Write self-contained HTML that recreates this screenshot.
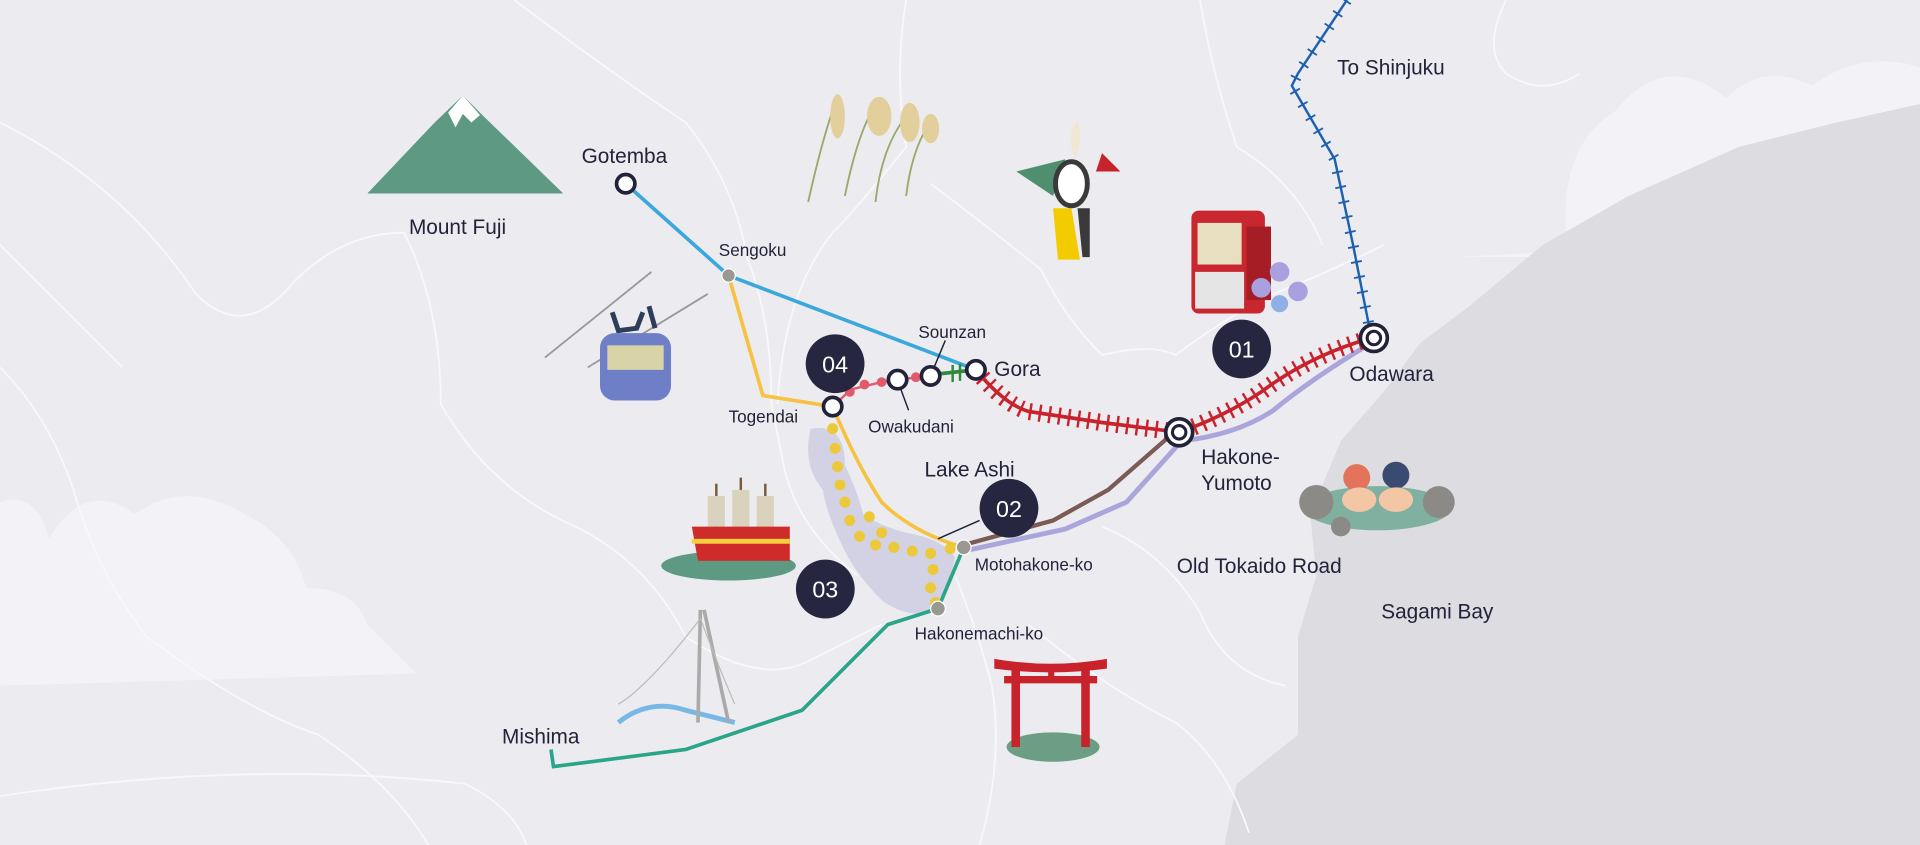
<!DOCTYPE html>
<html><head><meta charset="utf-8"><style>
html,body{margin:0;padding:0;background:#ececf0;}
svg{display:block}
text{font-family:"Liberation Sans",sans-serif;fill:#22223a;}
</style></head><body>
<svg width="1920" height="845" viewBox="0 0 1568 690" preserveAspectRatio="none" xmlns="http://www.w3.org/2000/svg">
<rect width="1568" height="690" fill="#ececf0"/>
<!-- clouds -->
<g fill="#f4f4f7" opacity="0.9">
<path d="M1190,210 L1280,205 Q1270,120 1320,90 Q1360,40 1410,80 Q1440,50 1480,70 Q1520,40 1568,55 L1568,210 Z"/>
<path d="M0,560 L0,410 Q30,400 40,440 Q70,390 110,420 Q150,390 200,420 Q240,440 250,480 Q290,480 300,510 L340,550 Z"/>
</g>
<!-- sea -->
<path d="M1000,690 L1010,640 L1060,600 L1060,520 L1075,470 L1070,420 L1095,360 L1130,320 L1160,280 L1200,250 L1260,200 L1330,160 L1420,120 L1500,100 L1568,85 L1568,690 Z" fill="#dcdce1"/>
<!-- roads -->
<g fill="none" stroke="#f8f8fa" stroke-width="1.5">
<path d="M0,100 Q100,150 160,240 Q200,280 240,230 Q280,190 330,190 Q360,250 360,330 Q400,400 470,430 Q530,460 560,520 Q620,560 660,540 L720,510"/>
<path d="M420,0 Q500,60 560,100 Q600,150 610,210 Q630,260 630,330 L640,380 Q650,430 700,470"/>
<path d="M740,0 Q730,60 740,120 Q700,170 680,190 Q640,240 635,330"/>
<path d="M760,150 Q800,180 850,220 Q870,260 900,290 Q940,280 960,290 Q1000,260 1040,240 Q1090,220 1130,200"/>
<path d="M980,0 Q990,60 1010,120 Q1060,150 1080,200"/>
<path d="M0,300 Q40,340 60,400 Q80,470 120,520 Q200,580 260,600 Q320,640 350,690"/>
<path d="M780,470 Q800,520 810,560 Q820,620 800,690"/>
<path d="M840,510 Q900,560 960,590 Q1000,620 1020,680"/>
<path d="M900,430 Q950,450 980,500 Q1000,550 1050,560"/>
<path d="M1230,0 Q1210,40 1230,60 Q1260,80 1290,60"/>
<path d="M0,650 Q200,620 380,640 Q420,660 430,690"/>
<path d="M0,200 Q60,260 100,300"/>
</g>
<!-- lake -->
<path d="M662,350 Q690,345 690,380 Q700,400 705,420 Q720,430 740,435 Q770,440 780,455 Q775,480 762,500 Q740,505 720,490 Q700,470 690,450 Q675,420 672,400 Q655,380 662,350 Z" fill="#d3d1e4"/>
<!-- Mount Fuji -->
<path d="M300,158 L355,100 L378,78 L395,95 L460,158 Z" fill="#5e9a83"/>
<path d="M366,92 L378,78 L392,94 L385,100 L378,93 L372,104 Z" fill="#ffffff"/>
<!-- pampas -->
<g stroke="#9aa86a" stroke-width="1.5" fill="none"><path d="M660,165 Q670,120 680,90"/><path d="M690,160 Q700,110 715,85"/><path d="M715,165 Q720,120 740,95"/><path d="M740,160 Q745,120 760,100"/></g>
<g fill="#e3cf9c"><ellipse cx="684" cy="95" rx="6" ry="18"/><ellipse cx="718" cy="95" rx="10" ry="16"/><ellipse cx="743" cy="100" rx="8" ry="16"/><ellipse cx="760" cy="105" rx="7" ry="12"/></g>
<!-- figure -->
<path d="M830,140 L870,130 L860,160 Z" fill="#4f8f6f"/>
<path d="M900,125 L915,140 L895,140 Z" fill="#c8232c"/>
<path d="M860,170 L875,170 L882,212 L864,212 Z" fill="#f2cc00"/>
<path d="M880,170 L890,170 L890,210 L884,210 Z" fill="#3a3a3a"/>
<ellipse cx="875" cy="150" rx="13" ry="18" fill="#fff" stroke="#3a3a3a" stroke-width="4"/>
<path d="M880,98 Q885,115 878,130 Q870,110 880,98" fill="#efe7d2"/>
<!-- train -->
<rect x="973" y="172" width="60" height="84" rx="6" fill="#c9272f"/>
<rect x="978" y="182" width="36" height="34" fill="#e8dfc0"/>
<rect x="976" y="222" width="40" height="30" fill="#e5e5e5"/>
<rect x="1018" y="185" width="20" height="60" fill="#a51e25"/>
<g fill="#a9a0e0"><circle cx="1030" cy="235" r="8"/><circle cx="1045" cy="222" r="8"/><circle cx="1060" cy="238" r="8"/><circle cx="1045" cy="248" r="7" fill="#8fb0e6"/></g>
<!-- ropeway -->
<g stroke="#999" stroke-width="1.5"><line x1="445" y1="292" x2="532" y2="222"/><line x1="480" y1="300" x2="578" y2="240"/></g>
<path d="M500,255 L505,270 L520,268 L525,255 M530,250 L535,268" stroke="#2d3d5a" stroke-width="4" fill="none"/>
<rect x="490" y="272" width="58" height="55" rx="12" fill="#6f7fc7"/>
<rect x="496" y="282" width="46" height="20" fill="#d8d4a8"/>
<!-- ship -->
<ellipse cx="595" cy="462" rx="55" ry="12" fill="#5e9a83"/>
<g stroke="#7a5a3a" stroke-width="2"><line x1="585" y1="395" x2="585" y2="440"/><line x1="605" y1="390" x2="605" y2="440"/><line x1="625" y1="395" x2="625" y2="440"/></g>
<g fill="#d9d2bd"><path d="M578,405 L592,405 L592,430 L578,430 Z"/><path d="M598,400 L612,400 L612,432 L598,432 Z"/><path d="M618,405 L632,405 L632,432 L618,432 Z"/></g>
<path d="M565,430 L645,430 L645,458 L570,458 Z" fill="#d02b2b"/>
<rect x="565" y="440" width="80" height="4" fill="#f4d03f"/>
<!-- bridge -->
<path d="M505,590 Q530,570 560,580 L600,590" stroke="#78b8e6" stroke-width="4" fill="none"/>
<path d="M572,498 L570,590 M575,498 L595,590" stroke="#aaa" stroke-width="3" fill="none"/>
<path d="M505,575 Q530,560 572,505 M572,505 Q585,540 600,575" stroke="#bbb" stroke-width="1" fill="none"/>
<!-- torii -->
<ellipse cx="860" cy="610" rx="38" ry="12" fill="#6b9e85"/>
<path d="M812,538 Q858,546 904,538 L904,546 Q858,552 812,546 Z" fill="#c8232c"/>
<rect x="820" y="552" width="76" height="6" fill="#c8232c"/>
<rect x="826" y="545" width="7" height="65" fill="#c8232c"/>
<rect x="883" y="545" width="7" height="65" fill="#c8232c"/>
<rect x="856" y="545" width="5" height="12" fill="#c8232c"/>
<!-- onsen -->
<ellipse cx="1125" cy="415" rx="60" ry="18" fill="#7fb0a0"/>
<g fill="#8c8a86"><circle cx="1075" cy="410" r="14"/><circle cx="1175" cy="410" r="13"/><circle cx="1095" cy="430" r="8"/></g>
<circle cx="1108" cy="390" r="11" fill="#e3735a"/><circle cx="1140" cy="388" r="11" fill="#3b4a70"/>
<ellipse cx="1110" cy="408" rx="14" ry="10" fill="#f3c7a5"/><ellipse cx="1140" cy="408" rx="14" ry="10" fill="#f3c7a5"/>

<!-- routes -->
<polyline points="511,150 595,225 797,302" fill="none" stroke="#3aa8dc" stroke-width="3"/>
<polyline points="595,225 623,323 680,332" fill="none" stroke="#f5c242" stroke-width="3"/>
<path d="M680,332 Q700,380 720,410 Q745,435 787,447" fill="none" stroke="#f5c242" stroke-width="3"/>
<path d="M1120,280 Q1070,310 1040,335 Q1010,355 965,360 M965,360 L920,410 L870,432 L787,450" fill="none" stroke="#aaa6dc" stroke-width="4"/>
<path d="M960,352 L905,400 L860,425 L787,445" fill="none" stroke="#7b5b55" stroke-width="3.5"/>
<polyline points="787,447 766,497 725,510 655,580 560,612 452,626 450,612" fill="none" stroke="#2aa58a" stroke-width="3"/>
<!-- red rail -->
<path id="rr" d="M797,302 Q820,330 840,336 L900,345 L963,353 Q1000,340 1030,320 Q1070,290 1120,276" fill="none" stroke="#c8232c" stroke-width="3"/>
<path d="M797,302 Q820,330 840,336 L900,345 L963,353 Q1000,340 1030,320 Q1070,290 1120,276" fill="none" stroke="#c8232c" stroke-width="14" stroke-dasharray="2 6"/>
<!-- blue rail -->
<polyline points="1120,276 1105,200 1090,130 1055,70 1060,60 1100,0" fill="none" stroke="#1d5fb0" stroke-width="2"/>
<polyline points="1120,276 1105,200 1090,130 1055,70 1060,60 1100,0" fill="none" stroke="#1d5fb0" stroke-width="9" stroke-dasharray="1.5 11"/>
<!-- pink / green -->
<polyline points="680,332 695,318 720,312 733,310 760,307" fill="none" stroke="#e05a6c" stroke-width="2"/>
<g fill="#e05a6c"><circle cx="694" cy="320" r="4"/><circle cx="706" cy="314" r="4"/><circle cx="720" cy="312" r="4"/><circle cx="748" cy="308" r="4"/></g>
<line x1="760" y1="306" x2="797" y2="302" stroke="#2f8a3a" stroke-width="3"/>
<line x1="778" y1="298" x2="778" y2="312" stroke="#2f8a3a" stroke-width="2"/><line x1="784" y1="297" x2="784" y2="311" stroke="#2f8a3a" stroke-width="2"/>
<!-- boat dots -->
<g fill="#ecc93a"><circle cx="680" cy="350" r="4.5"/><circle cx="682" cy="366" r="4.5"/><circle cx="684" cy="381" r="4.5"/><circle cx="686" cy="396" r="4.5"/><circle cx="690" cy="410" r="4.5"/><circle cx="694" cy="425" r="4.5"/><circle cx="702" cy="438" r="4.5"/><circle cx="715" cy="445" r="4.5"/><circle cx="730" cy="447" r="4.5"/><circle cx="745" cy="450" r="4.5"/><circle cx="760" cy="452" r="4.5"/><circle cx="776" cy="448" r="4.5"/><circle cx="762" cy="465" r="4.5"/><circle cx="760" cy="480" r="4.5"/><circle cx="764" cy="492" r="4.5"/><circle cx="710" cy="422" r="4.5"/><circle cx="720" cy="435" r="4.5"/></g>
<!-- leader lines -->
<line x1="772" y1="278" x2="762" y2="302" stroke="#22223a" stroke-width="1.2"/>
<line x1="735" y1="316" x2="742" y2="335" stroke="#22223a" stroke-width="1.2"/>
<line x1="766" y1="440" x2="800" y2="425" stroke="#22223a" stroke-width="1.2"/>
<!-- stations -->
<g fill="#fff" stroke="#22223a" stroke-width="3">
<circle cx="511" cy="150" r="7.5"/><circle cx="680" cy="332" r="7.5"/><circle cx="733" cy="310" r="7.5"/><circle cx="760" cy="307" r="7.5"/><circle cx="797" cy="302" r="7.5"/>
<circle cx="963" cy="353" r="11"/><circle cx="1122" cy="276" r="11"/>
</g>
<g fill="none" stroke="#22223a" stroke-width="2.5"><circle cx="963" cy="353" r="5.5"/><circle cx="1122" cy="276" r="5.5"/></g>
<g fill="#9a9890" stroke="#fff" stroke-width="1"><circle cx="595" cy="225" r="5.5"/><circle cx="787" cy="447" r="6"/><circle cx="766" cy="497" r="6"/></g>
<!-- number badges -->
<g fill="#262640"><circle cx="682" cy="297" r="24"/><circle cx="824" cy="415" r="24"/><circle cx="674" cy="481" r="24"/><circle cx="1014" cy="285" r="24"/></g>
<g font-size="19" text-anchor="middle" style="fill:#fff">
<text x="682" y="304" style="fill:#fff">04</text><text x="824" y="422" style="fill:#fff">02</text><text x="674" y="488" style="fill:#fff">03</text><text x="1014" y="292" style="fill:#fff">01</text>
</g>
<!-- labels -->
<g font-size="16">
<text x="475" y="133" font-size="17">Gotemba</text>
<text x="334" y="191" font-size="17">Mount Fuji</text>
<text x="587" y="209" font-size="14">Sengoku</text>
<text x="750" y="276" font-size="14">Sounzan</text>
<text x="812" y="307" font-size="17">Gora</text>
<text x="595" y="345" font-size="14">Togendai</text>
<text x="709" y="353" font-size="14">Owakudani</text>
<text x="755" y="389" font-size="17">Lake Ashi</text>
<text x="796" y="466" font-size="14">Motohakone-ko</text>
<text x="747" y="522" font-size="14">Hakonemachi-ko</text>
<text x="410" y="607" font-size="17">Mishima</text>
<text x="981" y="379" font-size="17">Hakone-</text>
<text x="981" y="400" font-size="17">Yumoto</text>
<text x="961" y="468" font-size="17">Old Tokaido Road</text>
<text x="1128" y="505" font-size="17">Sagami Bay</text>
<text x="1102" y="311" font-size="17">Odawara</text>
<text x="1092" y="61" font-size="17">To Shinjuku</text>
</g>
</svg>
</body></html>
